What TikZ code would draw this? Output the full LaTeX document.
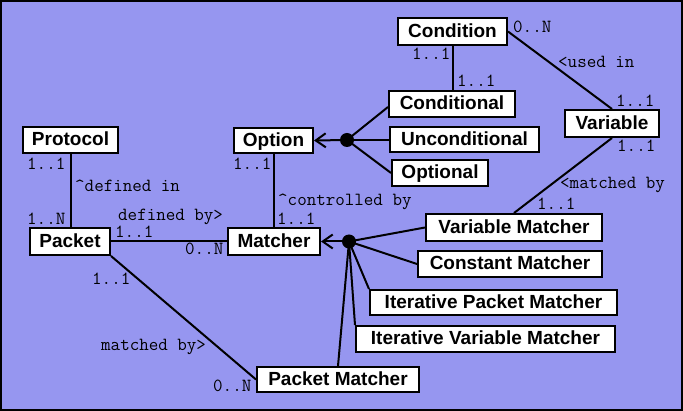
\documentclass[tikz,border=0pt]{standalone}
\usepackage{fontspec}
\setmainfont{Liberation Sans}
\usetikzlibrary{arrows.meta}
\definecolor{bgblue}{RGB}{150,150,240}
\tikzset{
  box/.style={draw=black, fill=white, line width=2pt, inner sep=0pt,
    text height=13.6pt, text depth=2pt,
    font=\bfseries\fontsize{19}{19}\selectfont},
  lbl/.style={inner sep=0pt, anchor=base west, font=\ttfamily\fontsize{18.5}{18.5}\selectfont},
  conn/.style={draw=black, line width=2pt},
  gen/.style={draw=black, line width=2pt, -{Straight Barb[length=10pt,width=14pt,line width=2pt]}},
  jdot/.style={circle, fill=black, inner sep=0pt, minimum size=14pt},
}
\begin{document}
\begin{tikzpicture}[x=1pt,y=-1pt]
\useasboundingbox (0,0) rectangle (683,411);
\draw[fill=bgblue, draw=black, line width=2pt] (1,1) rectangle (682,410);

% boxes
\node[box, minimum width=109pt, minimum height=27pt] (cond) at (452.5,31.5) {Condition};
\node[box, minimum width=126pt, minimum height=26pt] (condl) at (452,104) {Conditional};
\node[box, minimum width=149pt, minimum height=25pt] (uncond) at (464.5,139.5) {Unconditional};
\node[box, minimum width=96pt, minimum height=26pt] (optl) at (440,173) {Optional};
\node[box, minimum width=94pt, minimum height=27pt] (var) at (612,123.5) {Variable};
\node[box, minimum width=95pt, minimum height=26pt] (proto) at (70.5,140) {Protocol};
\node[box, minimum width=79pt, minimum height=25pt] (opt) at (273.5,140.5) {Option};
\node[box, minimum width=80pt, minimum height=27pt] (pkt) at (70,241.5) {Packet};
\node[box, minimum width=92pt, minimum height=27pt] (mat) at (274,241.5) {Matcher};
\node[box, minimum width=176pt, minimum height=27pt] (vm) at (514,227.5) {Variable Matcher};
\node[box, minimum width=184pt, minimum height=26pt] (cm) at (510,264) {Constant Matcher};
\node[box, minimum width=247pt, minimum height=25pt] (ipm) at (493.5,302.5) {Iterative Packet Matcher};
\node[box, minimum width=259pt, minimum height=26pt] (ivm) at (485.5,339) {Iterative Variable Matcher};
\node[box, minimum width=162pt, minimum height=25pt] (pm) at (338,379.5) {Packet Matcher};

% junction dots
\node[jdot] (d1) at (347,140) {};
\node[jdot] (d2) at (349,241.5) {};

% connectors
\draw[conn] (cond.south) -- (cond.south |- condl.north);
\draw[conn] (cond.east) -- (var.north);
\draw[conn] (var.south) -- (vm.north);
\draw[conn] (proto.south) -- (proto.south |- pkt.north);
\draw[conn] (pkt.east) -- (mat.west);
\draw[conn] (opt.south) -- (opt.south |- mat.north);
\draw[conn] (pkt.south east) -- (pm.west);

\draw[gen] (d1.center) -- (opt.east);
\draw[conn] (d1.center) -- ([yshift=-3pt]condl.west);
\draw[conn] (d1.center) -- (uncond.west |- d1.center);
\draw[conn] (d1.center) -- (optl.west);

\draw[gen] (d2.center) -- (mat.east);
\draw[conn] (d2.center) -- (vm.west);
\draw[conn] (d2.center) -- (cm.west);
\draw[conn] (d2.center) -- (ipm.north west);
\draw[conn] (d2.center) -- (ivm.north west);
\draw[conn] (d2.center) -- (pm.north);

% labels
\node[lbl] (l1) at (513,33) {0..N};
\node[lbl] (l2) at (558,68) {<used in};
\node[lbl] (l3) at (412,60) {1..1};
\node[lbl] (l4) at (457,86.5) {1..1};
\node[lbl] (l5) at (616,106.5) {1..1};
\node[lbl] (l6) at (617,151.5) {1..1};
\node[lbl] (l7) at (560,189) {<matched by};
\node[lbl] (l8) at (537,210) {1..1};
\node[lbl] (l9) at (27,170) {1..1};
\node[lbl] (l10) at (75,191.5) {\textasciicircum defined in};
\node[lbl] (l11) at (27,225) {1..N};
\node[lbl] (l12) at (118,221) {defined by>};
\node[lbl] (l13) at (115,238) {1..1};
\node[lbl] (l14) at (185,255) {0..N};
\node[lbl] (l15) at (233,170) {1..1};
\node[lbl] (l16) at (278,205.5) {\textasciicircum controlled by};
\node[lbl] (l17) at (277,225) {1..1};
\node[lbl] (l18) at (92,285) {1..1};
\node[lbl] (l19) at (101,351) {matched by>};
\node[lbl] (l20) at (213,391.5) {0..N};
\end{tikzpicture}
\end{document}
